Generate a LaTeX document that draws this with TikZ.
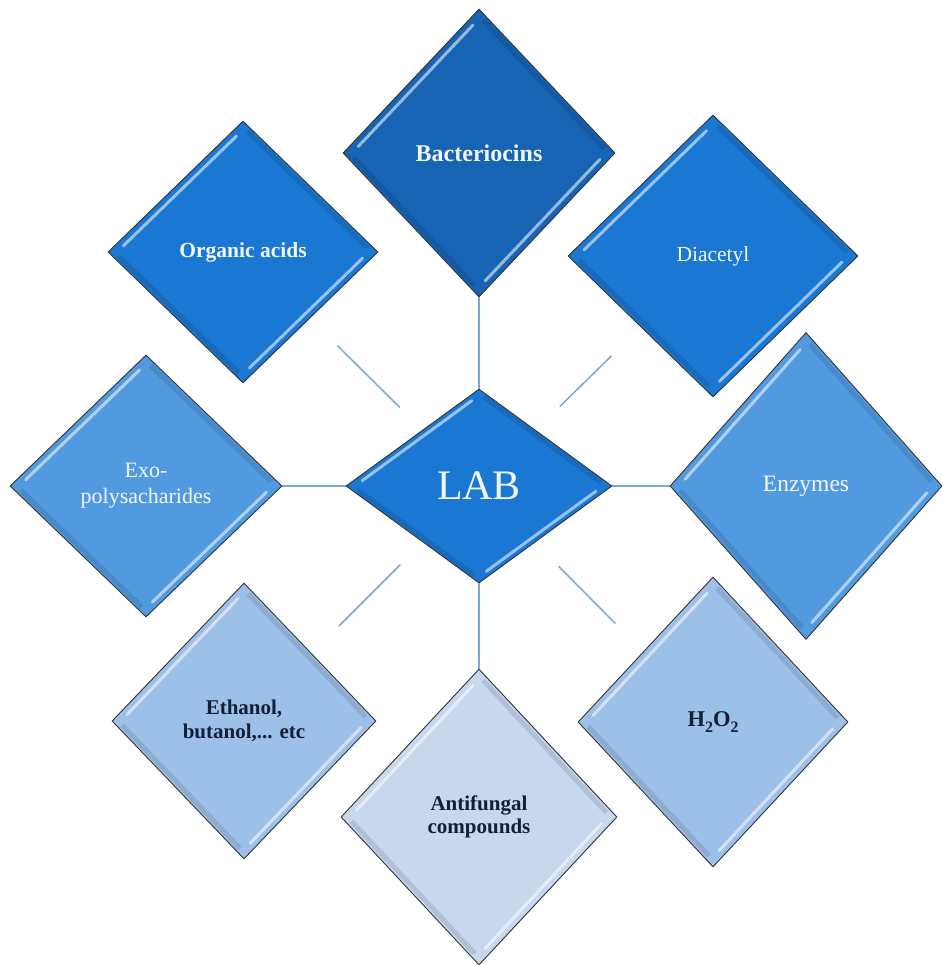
\documentclass[tikz,border=0pt]{standalone}
\usepackage{fontspec}
\setmainfont{Liberation Serif}
\usetikzlibrary{shapes.geometric,calc}

% fills, from the deepest blue to the palest
\definecolor{gemdeep}{HTML}{1764B4}
\definecolor{gemmid}{HTML}{1B78D2}
\definecolor{gemsoft}{HTML}{529ADF}
\definecolor{gempale}{HTML}{9DC0E8}
\definecolor{gemmist}{HTML}{C6D7EE}
\definecolor{inklight}{HTML}{F1F6FC}
\definecolor{inkdark}{HTML}{131E38}
\definecolor{spoke}{HTML}{7FA6D8}

\tikzset{
  gem/.style={diamond, draw=black!80, line width=0.9pt, inner sep=0pt,
    align=center},
  lighttext/.style={text=inklight},
  darktext/.style={text=inkdark},
  spokeline/.style={draw=spoke, line width=1.5pt},
  shine/.style={white, opacity=0.55, line width=3pt, line cap=round,
    shorten <=9pt, shorten >=9pt},
  shade/.style={black, opacity=0.10, line width=5pt,
    shorten <=6pt, shorten >=6pt}
}

% bevel: light strips along the upper-left and lower-right edges,
% faint dark strips along the other two
\newcommand\gemshine[1]{%
  \draw[shade] ($(#1.center)!0.95!(#1.north)$) -- ($(#1.center)!0.95!(#1.east)$);
  \draw[shade] ($(#1.center)!0.95!(#1.west)$) -- ($(#1.center)!0.95!(#1.south)$);
  \draw[shine] ($(#1.center)!0.93!(#1.west)$) -- ($(#1.center)!0.93!(#1.north)$);
  \draw[shine] ($(#1.center)!0.93!(#1.east)$) -- ($(#1.center)!0.93!(#1.south)$);
}
% a lowered, slightly reduced subscript digit
\newcommand\lowdigit[1]{\raisebox{-0.28em}{\fontsize{16}{16}\selectfont #1}}

\begin{document}
\begin{tikzpicture}[x=1pt, y=-1pt]
  \fill[white] (0,0) rectangle (942,965);
  \useasboundingbox (0,0) rectangle (942,965);

  % ring of products
  \node[gem, fill=gemdeep, lighttext, minimum width=272pt, minimum height=288pt,
        font=\fontsize{24}{28}\selectfont\bfseries] (bac) at (479,153) {Bacteriocins};
  \node[gem, fill=gemmid, lighttext, minimum width=270pt, minimum height=262pt,
        font=\fontsize{21.5}{25}\selectfont\bfseries] (org) at (243,252) {Organic acids};
  \node[gem, fill=gemmid, lighttext, minimum width=290pt, minimum height=282pt,
        font=\fontsize{21.5}{25}\selectfont] (dia) at (713,256) {Diacetyl};
  \node[gem, fill=gemsoft, lighttext, minimum width=272pt, minimum height=262pt,
        font=\fontsize{22}{26}\selectfont] (exo) at (146,486) {Exo-\\polysacharides};
  \node[gem, fill=gemsoft, lighttext, minimum width=272pt, minimum height=307pt,
        font=\fontsize{23.5}{27}\selectfont] (enz) at (806,486) {Enzymes};
  \node[gem, fill=gempale, darktext, minimum width=264pt, minimum height=276pt,
        font=\fontsize{21}{23.5}\selectfont\bfseries] (eth) at (244,721) {Ethanol,\\butanol,... etc};
  \node[gem, fill=gemmist, darktext, minimum width=276pt, minimum height=296pt,
        font=\fontsize{21}{22.5}\selectfont\bfseries] (anti) at (479,817) {Antifungal\\compounds};
  \node[gem, fill=gempale, darktext, minimum width=270pt, minimum height=290pt,
        font=\fontsize{22.5}{26}\selectfont\bfseries] (hoo) at (713,722) {H\lowdigit{2}O\lowdigit{2}};

  % hub
  \node[gem, fill=gemmid, lighttext, minimum width=266pt, minimum height=194pt,
        font=\fontsize{42}{48}\selectfont] (lab) at (479,486) {LAB};

  \foreach \g in {bac,org,dia,exo,enz,eth,anti,hoo,lab} {\gemshine{\g}}

  % straight spokes
  \draw[spokeline] (lab.north) -- (bac.south);
  \draw[spokeline] (lab.south) -- (anti.north);
  \draw[spokeline] (lab.west) -- (exo.east);
  \draw[spokeline] (lab.east) -- (enz.west);

  % diagonal spokes, drawn as floating pieces of the centre lines
  \coordinate (ulA) at ($(lab.center)!0.335!(org.center)$);
  \coordinate (ulB) at ($(lab.center)!0.600!(org.center)$);
  \coordinate (urA) at ($(lab.center)!0.345!(dia.center)$);
  \coordinate (urB) at ($(lab.center)!0.566!(dia.center)$);
  \coordinate (llA) at ($(lab.center)!0.335!(eth.center)$);
  \coordinate (llB) at ($(lab.center)!0.596!(eth.center)$);
  \coordinate (lrA) at ($(lab.center)!0.340!(hoo.center)$);
  \coordinate (lrB) at ($(lab.center)!0.583!(hoo.center)$);
  \draw[spokeline] (ulA) -- (ulB);
  \draw[spokeline] (urA) -- (urB);
  \draw[spokeline] (llA) -- (llB);
  \draw[spokeline] (lrA) -- (lrB);
\end{tikzpicture}
\end{document}
